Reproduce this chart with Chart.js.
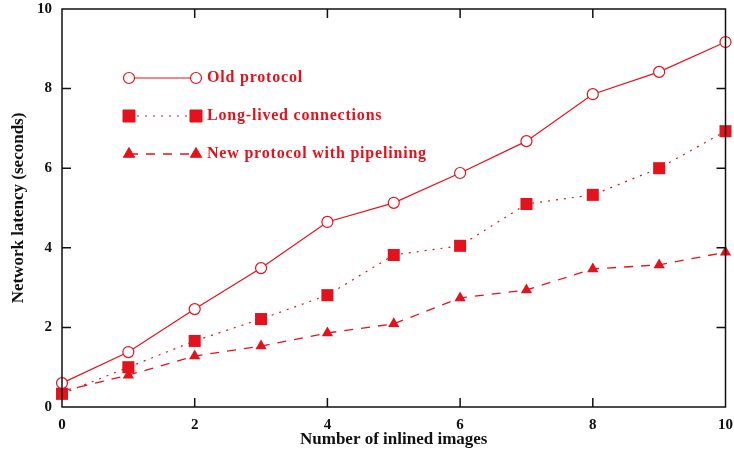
<!DOCTYPE html>
<html>
<head>
  <title>Network latency</title>
  <style>
    body { margin: 0; padding: 0; background: #fff; }
    #wrap { width: 734px; height: 455px; }
  </style>
</head>
<body>

<div id="wrap"><canvas id="latency-chart" width="734" height="455"></canvas></div>

<script src="https://cdn.jsdelivr.net/npm/chart.js"></script>
<script>
const images = [0, 1, 2, 3, 4, 5, 6, 7, 8, 9, 10];
const oldProtocol = [0.6, 1.38, 2.46, 3.49, 4.65, 5.13, 5.88, 6.68, 7.86, 8.42, 9.17];
const longLived = [0.33, 1.0, 1.66, 2.21, 2.81, 3.82, 4.05, 5.1, 5.33, 6.0, 6.93];
const pipelining = [0.4, 0.8, 1.28, 1.53, 1.86, 2.09, 2.74, 2.94, 3.47, 3.57, 3.89];
const seriesNames = ['Old protocol', 'Long-lived connections', 'New protocol with pipelining'];
const xTicks = [0, 2, 4, 6, 8, 10];
const yTicks = [0, 2, 4, 6, 8, 10];

const red = '#e3121c';
const serif = "'Liberation Serif', 'DejaVu Serif', serif";

function toPoints(values) {
  return images.map((x, i) => ({ x: x, y: values[i] }));
}

// frame with inward ticks and the legend drawn inside the plot
const framePlugin = {
  id: 'frame',
  afterDraw(chart) {
    const ctx = chart.ctx;
    const a = chart.chartArea;
    const xs = chart.scales.x, ys = chart.scales.y;
    ctx.save();
    ctx.strokeStyle = '#111';
    ctx.lineWidth = 1.5;
    ctx.strokeRect(a.left, a.top, a.right - a.left, a.bottom - a.top);
    const len = 9;
    ctx.beginPath();
    xTicks.slice(1, -1).forEach(v => {
      const px = xs.getPixelForValue(v);
      ctx.moveTo(px, a.bottom); ctx.lineTo(px, a.bottom - len);
      ctx.moveTo(px, a.top); ctx.lineTo(px, a.top + len);
    });
    yTicks.slice(1, -1).forEach(v => {
      const py = ys.getPixelForValue(v);
      ctx.moveTo(a.left, py); ctx.lineTo(a.left + len, py);
      ctx.moveTo(a.right, py); ctx.lineTo(a.right - len, py);
    });
    ctx.stroke();

    // legend
    const rows = [78, 116, 154];
    const x1 = 129, x2 = 196;
    chart.data.datasets.forEach((ds, i) => {
      const y = rows[i];
      ctx.strokeStyle = red;
      ctx.lineWidth = ds.borderWidth;
      ctx.setLineDash(ds.borderDash || []);
      ctx.beginPath();
      ctx.moveTo(x1, y); ctx.lineTo(x2, y);
      ctx.stroke();
      ctx.setLineDash([]);
      const opts = {
        pointStyle: ds.pointStyle, radius: ds.pointRadius,
        borderWidth: ds.pointBorderWidth || 1, rotation: 0
      };
      ctx.fillStyle = ds.pointBackgroundColor;
      ctx.strokeStyle = red;
      ctx.lineWidth = opts.borderWidth;
      Chart.helpers.drawPoint(ctx, opts, x1, y);
      Chart.helpers.drawPoint(ctx, opts, x2, y);
      ctx.fillStyle = red;
      ctx.font = 'bold 16px ' + serif;
      ctx.letterSpacing = '0.8px';
      ctx.textBaseline = 'middle';
      ctx.textAlign = 'left';
      ctx.fillText(ds.label, 207, y);
    });
    ctx.restore();
  }
};

new Chart(document.getElementById('latency-chart').getContext('2d'), {
  type: 'line',
  data: {
    datasets: [
      {
        label: seriesNames[0], data: toPoints(oldProtocol),
        borderColor: red, borderWidth: 1.2,
        pointStyle: 'circle', pointRadius: 5.5, pointBorderWidth: 1.2,
        pointBackgroundColor: '#fff', pointBorderColor: red
      },
      {
        label: seriesNames[1], data: toPoints(longLived),
        borderColor: red, borderWidth: 1.2, borderDash: [2, 6],
        pointStyle: 'rect', pointRadius: 8.5, pointBorderWidth: 0,
        pointBackgroundColor: red, pointBorderColor: red
      },
      {
        label: seriesNames[2], data: toPoints(pipelining),
        borderColor: red, borderWidth: 1.3, borderDash: [9, 8],
        pointStyle: 'triangle', pointRadius: 6.5, pointBorderWidth: 0,
        pointBackgroundColor: red, pointBorderColor: red
      }
    ]
  },
  options: {
    responsive: false,
    animation: false,
    clip: false,
    layout: { padding: { top: 9, right: 8, left: 0, bottom: 0 } },
    plugins: { legend: { display: false }, tooltip: { enabled: false } },
    scales: {
      x: {
        type: 'linear', min: 0, max: 10,
        afterBuildTicks: s => { s.ticks = xTicks.map(v => ({ value: v })); },
        afterFit: s => { s.height = 48; s.paddingLeft = 0; s.paddingRight = 0; },
        grid: { display: false, drawTicks: false },
        border: { display: false },
        ticks: { padding: 9, color: '#111', font: { family: serif, size: 15, weight: 'bold' } },
        title: {
          display: true, text: 'Number of inlined images', color: '#111',
          padding: { top: 0, bottom: 5 },
          font: { family: serif, size: 17, weight: 'bold' }
        }
      },
      y: {
        type: 'linear', min: 0, max: 10,
        afterBuildTicks: s => { s.ticks = yTicks.map(v => ({ value: v })); },
        afterFit: s => { s.width = 62; s.paddingTop = 0; s.paddingBottom = 0; },
        grid: { display: false, drawTicks: false },
        border: { display: false },
        ticks: { padding: 10, color: '#111', font: { family: serif, size: 15, weight: 'bold' } },
        title: {
          display: true, text: 'Network latency (seconds)', color: '#111',
          padding: { top: 8, bottom: 0 },
          font: { family: serif, size: 17, weight: 'bold' }
        }
      }
    }
  },
  plugins: [framePlugin]
});
</script>

</body>
</html>
